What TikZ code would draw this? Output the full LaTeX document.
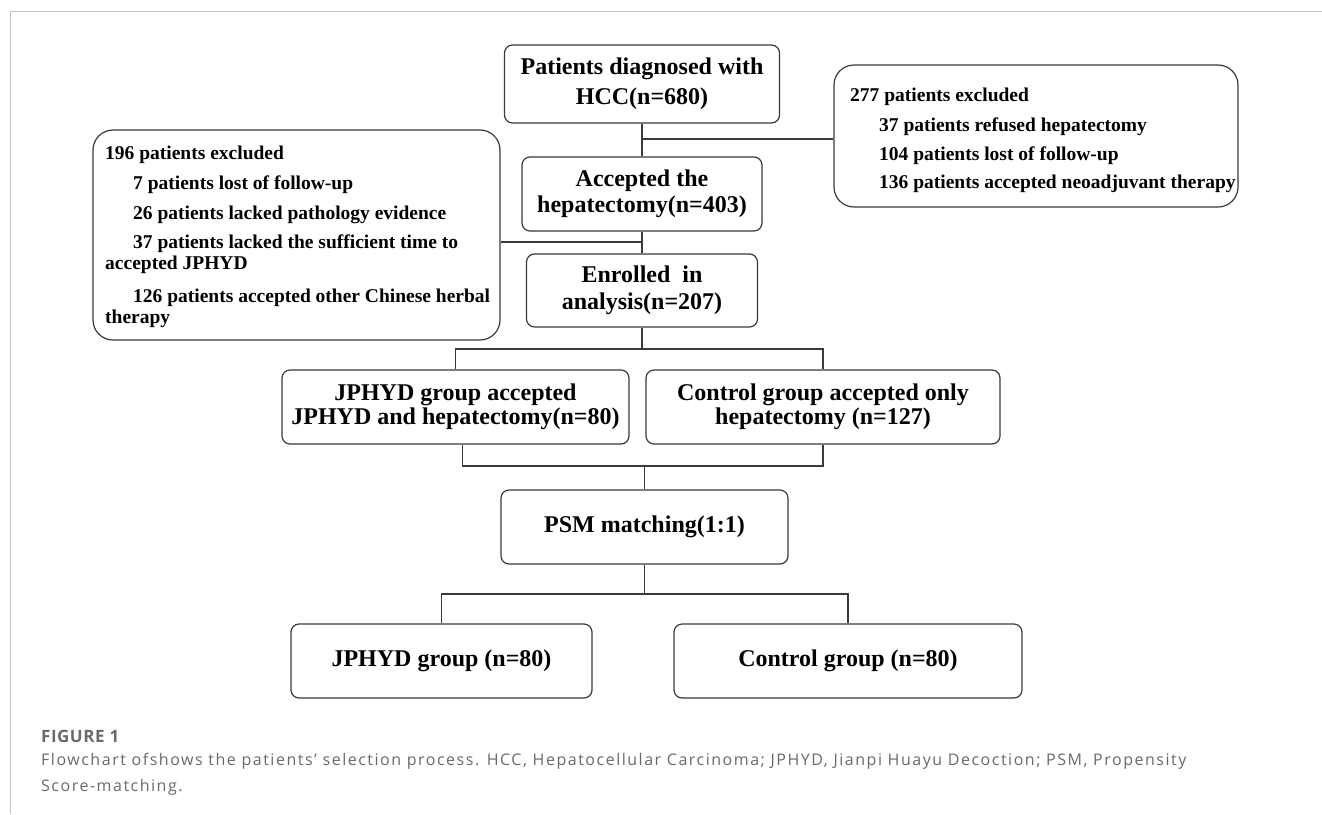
\documentclass[tikz,border=0pt]{standalone}
\usepackage{fontspec}
\setmainfont{Liberation Serif}
\newfontfamily\capfont[LetterSpace=9.5]{Open Sans}
\newfontfamily\capbold[LetterSpace=3]{Open Sans}
\definecolor{ln}{HTML}{3A3A3A}
\definecolor{framec}{HTML}{C4C4C4}
\definecolor{capc}{HTML}{6A6A6A}
\begin{document}
\begin{tikzpicture}[x=1pt,y=-1pt,
  box/.style={draw=ln, line width=1.2pt, rounded corners=8pt, align=center, inner sep=0pt,
    font=\bfseries\fontsize{24}{27}\selectfont},
  exbox/.style={draw=ln, line width=1.2pt, rounded corners=20pt, inner sep=0pt},
  extext/.style={anchor=base west, align=left, inner sep=0pt,
    font=\bfseries\fontsize{19.5}{21}\selectfont},
  conn/.style={draw=ln, line width=1.2pt},
  captext/.style={anchor=base west, inner sep=0pt, text=capc}]
\useasboundingbox (0,0) rectangle (1322,814);
\fill[white] (0,0) rectangle (1322,814);
\draw[framec, line width=1pt] (1322,11) -- (10,11) -- (10,814);

% main column
\node[box, minimum width=275pt, minimum height=78pt, font=\bfseries\fontsize{24}{30}\selectfont] (b1) at (642,84) {Patients diagnosed with\\HCC(n=680)};
\node[box, minimum width=240pt, minimum height=74pt, font=\bfseries\fontsize{24}{26}\selectfont] (b2) at (642,194) {Accepted the\\hepatectomy(n=403)};
\node[box, minimum width=231pt, minimum height=73pt] (b3) at (642,290.5) {Enrolled\ \ in\\analysis(n=207)};

% exclusion boxes (text anchored at the baseline of its last line)
\node[exbox, minimum width=407pt, minimum height=210pt] (exL) at (296.5,235) {};
\node[extext] (exLt) at (105,323) {196 patients excluded\\[9pt]
\hspace*{28pt}7 patients lost of follow-up\\[9pt]
\hspace*{28pt}26 patients lacked pathology evidence\\[8pt]
\hspace*{28pt}37 patients lacked the sufficient time to\\
accepted JPHYD\\[12pt]
\hspace*{28pt}126 patients accepted other Chinese herbal\\
therapy};
\node[exbox, minimum width=404pt, minimum height=142pt] (exR) at (1036,136) {};
\node[extext] (exRt) at (850,188) {277 patients excluded\\[9pt]
\hspace*{29pt}37 patients refused hepatectomy\\[8pt]
\hspace*{29pt}104 patients lost of follow-up\\[7pt]
\hspace*{29pt}136 patients accepted neoadjuvant therapy};

% groups
\node[box, minimum width=347pt, minimum height=74pt, font=\bfseries\fontsize{24}{24.5}\selectfont] (g1) at (455.5,407) {JPHYD group accepted\\JPHYD and hepatectomy(n=80)};
\node[box, minimum width=354pt, minimum height=74pt, font=\bfseries\fontsize{24}{24.5}\selectfont] (g2) at (823,407) {Control group accepted only\\hepatectomy (n=127)};
\node[box, minimum width=287pt, minimum height=74pt] (psm) at (644.5,527) {PSM matching(1:1)};
\node[box, minimum width=301pt, minimum height=74pt] (bL) at (441.5,661) {JPHYD group (n=80)};
\node[box, minimum width=348pt, minimum height=74pt] (bR) at (848,661) {Control group (n=80)};

% connectors
\draw[conn] (b1.south) -- (b2.north);
\coordinate (jR) at (642,139);
\draw[conn] (jR) -- (jR -| exR.west);
\draw[conn] (b2.south) -- (b3.north);
\coordinate (jL) at (642,242);
\draw[conn] (jL) -- (jL -| exL.east);
\coordinate (s1) at (642,349);
\draw[conn] (b3.south) -- (s1);
\draw[conn] (g1.north) |- (s1) -| (g2.north);
\coordinate (s2) at (644.5,466);
\draw[conn] ([xshift=7pt]g1.south) |- (s2) -| (g2.south);
\draw[conn] (s2) -- (psm.north);
\coordinate (s3) at (644.5,594);
\draw[conn] (psm.south) -- (s3);
\draw[conn] (bL.north) |- (s3) -| (bR.north);

% caption
\node[captext, font=\capbold\bfseries\fontsize{17}{20}\selectfont] (fig) at (41,742) {FIGURE 1};
\node[captext, font=\capfont\fontsize{16}{20}\selectfont] (c1) at (41,765) {Flowchart ofshows the patients’ selection process. HCC, Hepatocellular Carcinoma; JPHYD, Jianpi Huayu Decoction; PSM, Propensity};
\node[captext, font=\capfont\fontsize{16}{20}\selectfont] (c2) at (41,791) {Score-matching.};
\end{tikzpicture}
\end{document}
